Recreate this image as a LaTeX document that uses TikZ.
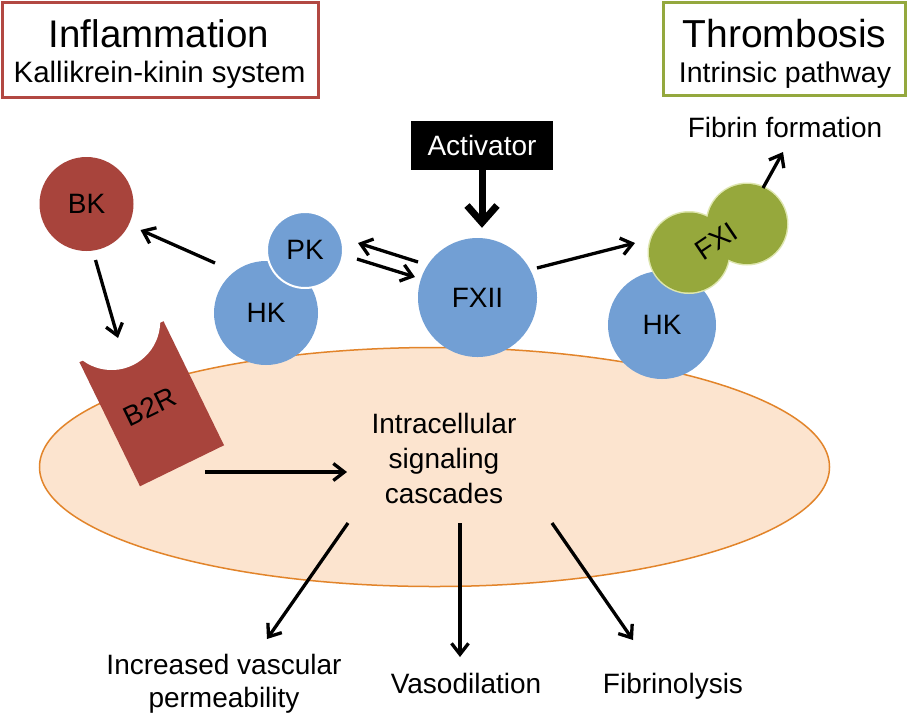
\documentclass[tikz,border=0pt]{standalone}
\usepackage{fontspec}
\setmainfont{Liberation Sans}
\usetikzlibrary{arrows.meta,shapes.geometric,calc}
\definecolor{kkred}{RGB}{168,68,60}
\definecolor{boxred}{RGB}{178,72,66}
\definecolor{boxgreen}{RGB}{148,168,62}
\definecolor{fxigreen}{RGB}{150,168,60}
\definecolor{fxiedge}{RGB}{222,230,175}
\definecolor{molblue}{RGB}{114,159,212}
\definecolor{cellfill}{RGB}{252,228,207}
\definecolor{celledge}{RGB}{226,132,42}
\begin{document}
\begin{tikzpicture}[x=1pt,y=-1pt,
  lbl/.style={font=\fontsize{28}{35}\selectfont, inner sep=0pt},
  mol/.style={circle, fill=molblue, inner sep=0pt, font=\fontsize{28}{33}\selectfont},
  titlebox/.style={draw, line width=3pt, inner sep=0pt, fill=white},
  arr/.style={line width=3.3pt, -{Straight Barb[length=11pt,width=17pt]}},
  bigarr/.style={line width=7pt, -{Straight Barb[length=17pt,width=30pt]}}]
\useasboundingbox (0,0) rectangle (910,716);
\fill[white] (0,0) rectangle (910,716);

% title boxes
\node[titlebox, draw=boxred, minimum width=316, minimum height=95] (inflbox) at (160,49.5) {};
\node[lbl, anchor=base, font=\fontsize{38.5}{40}\selectfont] (infl) at (159,47) {Inflammation};
\node[lbl, anchor=base, font=\fontsize{29.5}{32}\selectfont] (kks) at (159.5,82) {Kallikrein-kinin system};
\node[titlebox, draw=boxgreen, minimum width=242, minimum height=93] (thrbox) at (784,48.5) {};
\node[lbl, anchor=base, font=\fontsize{39}{40}\selectfont] (thr) at (784.5,47) {Thrombosis};
\node[lbl, anchor=base, font=\fontsize{28.5}{32}\selectfont] (intr) at (785,82) {Intrinsic pathway};

% activator
\node[fill=black, text=white, font=\fontsize{28}{33}\selectfont, minimum width=142, minimum height=49, inner sep=0pt] (act) at (482,145.5) {Activator};

% cell
\coordinate (cell) at (434.5,467);
\path[draw=celledge, fill=cellfill, line width=1.5pt] (cell) ellipse[x radius=395pt, y radius=119.5pt];

% B2R receptor
\begin{scope}[shift={(151.75,403.75)}, rotate=26]
  \fill[kkred] (-46.75,-69) rectangle (46.75,69);
  \fill[white] (0,-91.6) circle[radius=48.6pt];
\end{scope}
\node[lbl, rotate=26] (b2r) at (150,407) {B2R};

% molecules
\node[mol, minimum size=104] (hk) at (266,313) {HK};
\node[mol, draw=white, line width=2pt, minimum size=76] (pk) at (305,250) {PK};
\node[mol, minimum size=119] (fxii) at (477.5,297.5) {FXII};
\node[circle, fill=kkred, minimum size=94, inner sep=0pt, font=\fontsize{28}{33}\selectfont] (bk) at (86.5,204) {BK};
\node[mol, minimum size=108] (hk2) at (662,325) {HK};
\coordinate (fxia) at (689,252.5);
\coordinate (fxib) at (747,224);
\path[draw=fxiedge, line width=3pt] (fxia) circle[radius=40pt] (fxib) circle[radius=40pt];
\path[fill=fxigreen] (fxia) circle[radius=40pt] (fxib) circle[radius=40pt];
\node[lbl, rotate=34] (fxi) at (716,241) {FXI};

% texts
\node[lbl, anchor=base] (fibrin) at (785,137) {Fibrin formation};
\node[lbl, align=center] (intra) at (444,458) {Intracellular\\signaling\\cascades};
\node[lbl, align=center, font=\fontsize{28}{33}\selectfont] (perm) at (224,684) {Increased vascular\\permeability};
\node[lbl, anchor=base] (vaso) at (466,693) {Vasodilation};
\node[lbl, anchor=base] (fibrino) at (673,693) {Fibrinolysis};

% connectors
\draw[bigarr] (act.south) -- ($(act.south |- fxii.north)+(0,-10)$);
\draw[arr] ($(hk)+(-51,-50)$) -- ($(bk)+(54,26)$);
\draw[arr] ($(bk)+(9,56)$) -- ($(b2r)+(-32,-69)$);
\draw[arr] ($(fxii)+(-59.5,-35.5)$) -- ($(pk)+(53,-7)$);
\draw[arr] ($(pk)+(52,9)$) -- ($(fxii)+(-62.5,-20.5)$);
\draw[arr] ($(fxii)+(59.5,-29.5)$) -- ($(fxia)+(-54,-9.5)$);
\draw[arr] ($(fxib)+(16,-36)$) -- ($(fibrin.base)+(-2,15)$);
\draw[arr] ($(b2r)+(55,65)$) -- ($(intra)+(-97,14)$);
\draw[arr] ($(intra)+(-96,65)$) -- ($(perm)+(43,-45)$);
\draw[arr] ($(intra)+(16,65)$) -- ($(vaso.base)+(-6,-36)$);
\draw[arr] ($(intra)+(108,65)$) -- ($(fibrino.base)+(-40,-53)$);
\end{tikzpicture}
\end{document}
